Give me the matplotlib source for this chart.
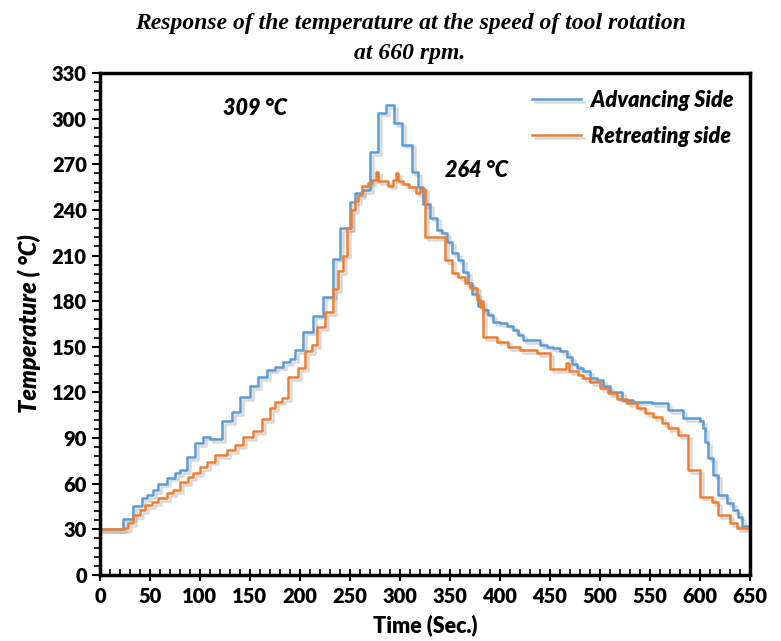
import matplotlib
matplotlib.use('Agg')
import matplotlib.pyplot as plt
import matplotlib.patheffects as pe
from matplotlib.ticker import MultipleLocator

# Advancing side (step data, time in s, temperature in C)
adv_time = [0, 23, 33, 42, 47, 53, 58, 67, 75, 80, 87, 95, 103, 110, 122, 132, 140, 150,
            158, 167, 175, 183, 190, 195, 203, 213, 223, 233, 240, 250, 255, 262, 270,
            278, 286, 294, 302, 312, 318, 323, 330, 337, 342, 347, 352, 358, 363, 368,
            372, 378, 383, 388, 393, 400, 407, 413, 418, 423, 440, 447, 453, 460, 467,
            472, 477, 483, 490, 497, 503, 510, 522, 533, 552, 568, 583, 600, 603, 605,
            608, 613, 618, 627, 633, 638, 642, 650]
adv_temp = [30, 37, 45.5, 50.5, 52.5, 56, 60, 64, 67, 69, 77.5, 86.5, 91, 89.5, 101, 107,
            117, 124, 130, 135, 137, 140, 142, 148, 160, 170.5, 183, 208, 228, 245, 251,
            253, 278, 304, 309, 297, 283, 265, 255, 244, 235, 227, 225, 219, 211.5, 207,
            199, 192, 185, 177, 174, 171, 166.5, 165.5, 164, 161, 158, 154.5, 151, 150,
            149, 147, 143.5, 139, 136, 134, 129.5, 128, 124, 120, 115, 114, 113, 108.5,
            103, 101, 96.5, 87.5, 77, 65.5, 52.5, 47, 42.5, 38, 32, 30]

# Retreating side
ret_time = [0, 25, 28, 33, 40, 45, 52, 58, 67, 73, 80, 88, 93, 100, 107, 115, 127, 135,
            143, 153, 162, 170, 175, 182, 188, 198, 205, 212, 217, 225, 233, 238, 243,
            247, 251, 255, 258, 262, 268, 272, 276, 278, 288, 293, 296, 298, 303, 309,
            316, 320, 325, 345, 352, 358, 365, 370, 377, 380, 382, 383, 397, 408, 420,
            437, 450, 466, 469, 478, 483, 490, 500, 508, 517, 527, 537, 545, 553, 562,
            568, 578, 588, 600, 612, 618, 630, 637, 650]
ret_temp = [30, 31, 34, 39.5, 42.5, 46, 48, 50.5, 54, 56, 61, 64.5, 67, 71, 74.5, 79, 82,
            85.5, 90.5, 94.5, 102.5, 109.5, 114, 116.5, 130, 136, 147, 151, 163, 173, 188,
            200, 210, 228, 240, 246, 250, 256, 258, 260, 265, 259, 256, 260, 264, 259,
            257, 255, 251, 254, 222, 207, 198.5, 196, 192, 189, 181, 176, 180, 156.5,
            153.5, 150, 148, 146, 135.5, 139.5, 134, 131.5, 129.5, 127, 123, 119.5, 116,
            113, 110, 106.5, 104, 100, 96.5, 92, 69, 51.5, 48, 39.5, 34, 31, 30]

title_lines = ['Response of the temperature at the speed of tool rotation', 'at 660 rpm.']
x_ticks = list(range(0, 651, 50))
y_ticks = list(range(0, 331, 30))

fig = plt.figure(figsize=(7.81, 6.41), dpi=100)
ax = fig.add_axes([0.128, 0.103, 0.832, 0.783])

shadow = [pe.SimpleLineShadow(offset=(2, -2), shadow_color='gray', alpha=0.3), pe.Normal()]
ax.plot(adv_time, adv_temp, drawstyle='steps-post', color='#5B9BD5', lw=1.8,
        label='Advancing Side', path_effects=shadow)
ax.plot(ret_time, ret_temp, drawstyle='steps-post', color='#ED7D31', lw=1.8,
        label='Retreating side', path_effects=shadow)

ax.set_xlim(0, 650)
ax.set_ylim(0, 330)
ax.set_xticks(x_ticks)
ax.set_yticks(y_ticks)
ax.xaxis.set_minor_locator(MultipleLocator(10))
ax.yaxis.set_minor_locator(MultipleLocator(6))
ax.tick_params(axis='x', which='major', direction='inout', length=8, width=1.5, pad=5)
ax.tick_params(axis='x', which='minor', direction='in', length=4, width=1.2)
ax.tick_params(axis='y', which='major', direction='out', length=6, width=1.5)
ax.tick_params(axis='y', which='minor', direction='out', length=4, width=1.2)
for lab in ax.get_xticklabels() + ax.get_yticklabels():
    lab.set_fontfamily('Lato')
    lab.set_fontweight('heavy')
    lab.set_fontsize(14.5)
for sp in ax.spines.values():
    sp.set_linewidth(2.5)

ax.set_xlabel('Time (Sec.)', fontfamily='Lato', fontweight='heavy', fontsize=15.5, labelpad=6)
ax.set_ylabel('Temperature ( \u00b0C)', fontfamily='Lato', fontweight='heavy',
              fontstyle='italic', fontsize=17, labelpad=8)

ax.text(155, 307, '309 \u00b0C', fontfamily='Lato', fontweight='heavy', fontstyle='italic',
        fontsize=15.5, ha='center', va='center')
ax.text(377, 266, '264 \u00b0C', fontfamily='Lato', fontweight='heavy', fontstyle='italic',
        fontsize=15.5, ha='center', va='center')

ax.legend(loc='upper right', frameon=False, handlelength=2.3, handletextpad=0.45,
          labelspacing=0.7, bbox_to_anchor=(1.005, 1.005),
          prop={'family': 'Lato', 'weight': 'heavy', 'style': 'italic', 'size': 15.5})

fig.text(0.525, 0.963, title_lines[0], ha='center', va='center', fontfamily='Liberation Serif',
         fontweight='bold', fontstyle='italic', fontsize=17)
fig.text(0.525, 0.917, title_lines[1], ha='center', va='center', fontfamily='Liberation Serif',
         fontweight='bold', fontstyle='italic', fontsize=17)

fig.savefig('out.png', dpi=100)
